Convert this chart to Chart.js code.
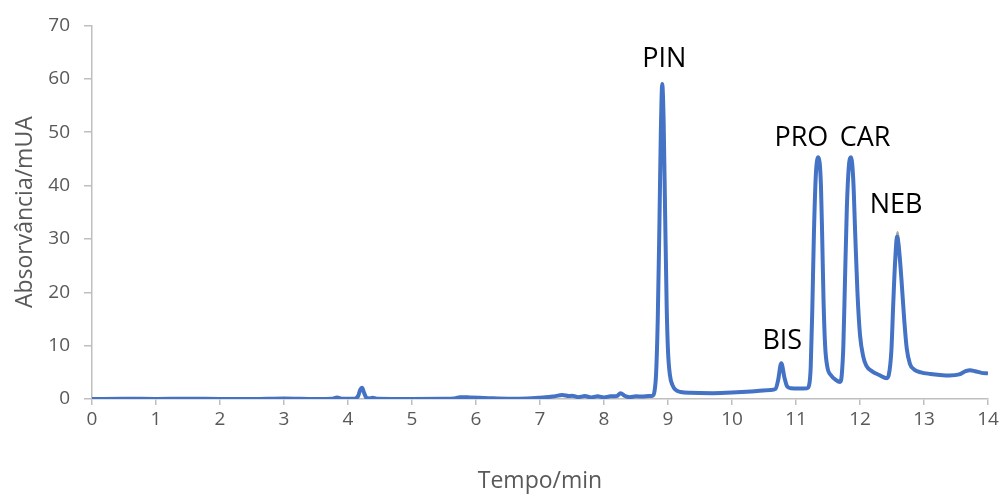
<!DOCTYPE html>
<html>
<head>
<meta charset="utf-8">
<script src="https://cdn.jsdelivr.net/npm/chart.js@4"></script>
<style>
  html, body { margin: 0; padding: 0; background: #fff; }
  #wrap { width: 1003px; height: 499px; }
</style>
</head>
<body>
<div id="wrap"><canvas id="chrom" width="1003" height="499"></canvas></div>
<script>
// retention time (min) and absorbance (mUA)
const times = [
  0, 0.5, 1.0, 1.5, 2.0, 2.5, 3.0, 3.5, 3.75, 3.83, 3.9, 4.1, 4.16, 4.19, 4.22, 4.25, 4.29, 4.35, 4.38, 4.45,
  5.0, 5.5, 5.65, 5.75, 5.9, 6.2, 6.5, 6.8, 7.0, 7.2, 7.35, 7.45, 7.5, 7.6, 7.7, 7.8, 7.9, 8.0, 8.1, 8.2,
  8.26, 8.32, 8.4, 8.5, 8.6, 8.7, 8.76,
  8.79, 8.815, 8.84, 8.865, 8.888, 8.91, 8.932, 8.956, 8.98, 9.0, 9.03, 9.07, 9.12, 9.2, 9.35, 9.7, 10.0, 10.3, 10.6,
  10.68, 10.72, 10.77, 10.82, 10.86, 10.92, 11.05, 11.17,
  11.205, 11.23, 11.255, 11.28, 11.31, 11.35, 11.39, 11.41, 11.43, 11.455, 11.49, 11.55, 11.62, 11.69,
  11.715, 11.74, 11.765, 11.795, 11.825, 11.86, 11.895, 11.925, 11.96, 12.0, 12.05, 12.1, 12.2, 12.3, 12.42,
  12.45, 12.49, 12.52, 12.55, 12.58, 12.61, 12.65, 12.69, 12.73, 12.78, 12.85, 12.95, 13.1, 13.25, 13.4, 13.55,
  13.65, 13.72, 13.8, 13.9, 14.0
];
const absorb = [
  0, 0.05, 0, 0.05, 0, 0, 0.1, 0, 0.05, 0.3, 0.05, 0.05, 0.6, 1.7, 2.1, 1.2, 0.2, 0.1, 0.25, 0.05,
  0, 0.05, 0.1, 0.35, 0.3, 0.15, 0.05, 0.1, 0.25, 0.45, 0.75, 0.55, 0.6, 0.35, 0.55, 0.3, 0.5, 0.3, 0.5, 0.55,
  1.1, 0.6, 0.35, 0.5, 0.45, 0.55, 0.6,
  1.5, 5, 15, 32, 50, 59, 52, 34, 17, 9, 4.5, 2.6, 1.7, 1.3, 1.15, 1.1, 1.2, 1.4, 1.7,
  1.9, 3.5, 6.7, 4.0, 2.4, 2.0, 1.95, 2.0,
  2.6, 6, 17, 31, 42, 45.3, 40, 30, 18.5, 10, 6, 4.4, 3.6, 3.2,
  4.5, 10, 22, 36, 43.5, 45.3, 41, 31, 20, 12, 8, 6.2, 5.1, 4.5, 3.9,
  4.5, 9, 18, 26, 30.4, 28, 22, 15, 9.5, 6.6, 5.5, 5, 4.7, 4.5, 4.4, 4.6,
  5.2, 5.4, 5.2, 4.9, 4.8
];

// second (grey) trace, only visible where it pokes out at the NEB apex
const greyTimes = [12.55, 12.575, 12.59, 12.61, 12.63];
const greyAbsorb = [26, 30.6, 31.3, 29.5, 26];

// peak names and the apex they sit over
const peakNames = ['PIN', 'BIS', 'PRO', 'CAR', 'NEB'];
const peakTimes = [8.91, 10.77, 11.35, 11.86, 12.58];
const peakHeights = [59, 6.7, 45.3, 45.3, 30.4];
const labelShift = [[2, -25], [1, -22], [-17, -19], [14, -19], [-1, -31]];

const xTicks = [0, 1, 2, 3, 4, 5, 6, 7, 8, 9, 10, 11, 12, 13, 14];

const FONT = 'Open Sans, sans-serif';
const AXIS = '#bfbfbf';

const peakLabels = {
  id: 'peakLabels',
  afterDatasetsDraw(chart) {
    const ctx = chart.ctx;
    const xs = chart.scales.x, ys = chart.scales.y;
    ctx.save();
    ctx.font = '27px ' + FONT;
    ctx.fillStyle = '#000';
    ctx.textAlign = 'center';
    ctx.textBaseline = 'middle';
    peakNames.forEach((name, i) => {
      const px = xs.getPixelForValue(peakTimes[i]) + labelShift[i][0];
      const py = ys.getPixelForValue(peakHeights[i]) + labelShift[i][1];
      ctx.fillText(name, px, py);
    });
    ctx.restore();
  }
};

const ctx = document.getElementById('chrom').getContext('2d');
new Chart(ctx, {
  type: 'line',
  data: {
    datasets: [{
      label: 'Cromatograma',
      data: times.map((t, i) => ({ x: t, y: absorb[i] })),
      borderColor: '#4472C4',
      borderWidth: 4,
      pointRadius: 0,
      fill: false,
      order: 1,
      cubicInterpolationMode: 'monotone'
    }, {
      label: 'Padrão',
      data: greyTimes.map((t, i) => ({ x: t, y: greyAbsorb[i] })),
      borderColor: '#a5a5a5',
      borderWidth: 2,
      pointRadius: 0,
      fill: false,
      order: 2,
      cubicInterpolationMode: 'monotone'
    }]
  },
  options: {
    responsive: false,
    animation: false,
    layout: { padding: { top: 24, right: 15, left: 8, bottom: 0 } },
    plugins: {
      legend: { display: false },
      tooltip: { enabled: false }
    },
    scales: {
      x: {
        type: 'linear',
        min: 0,
        max: 14,
        afterBuildTicks: s => { s.ticks = xTicks.map(v => ({ value: v })); },
        afterFit: s => { s.height = 100; },
        grid: { drawOnChartArea: false, color: AXIS, tickLength: 6, lineWidth: 1.5 },
        border: { color: AXIS, width: 1.5 },
        ticks: { color: '#595959', font: { family: FONT, size: 19 }, padding: 3, maxRotation: 0 },
        title: { display: true, text: 'Tempo/min', color: '#595959', font: { family: FONT, size: 23 } }
      },
      y: {
        min: 0,
        max: 70,
        ticks: { stepSize: 10, color: '#595959', font: { family: FONT, size: 19 }, padding: 14 },
        afterFit: s => { s.width = 84; },
        grid: { drawOnChartArea: false, color: AXIS, tickLength: 8, lineWidth: 1.5 },
        border: { color: AXIS, width: 1.5 },
        title: { display: true, text: 'Absorvância/mUA', color: '#595959', font: { family: FONT, size: 23 } }
      }
    }
  },
  plugins: [peakLabels]
});
</script>
</body>
</html>
